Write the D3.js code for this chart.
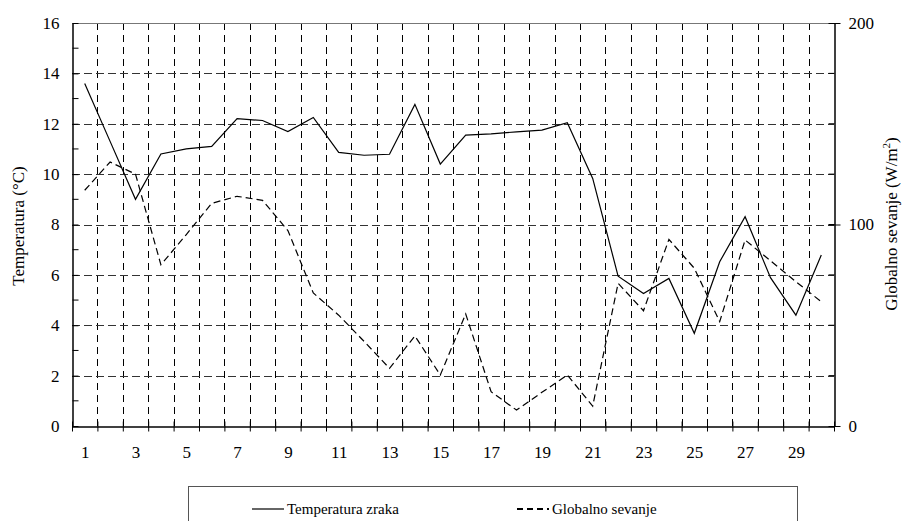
<!DOCTYPE html>
<html>
<head>
<meta charset="utf-8">
<script src="https://cdn.jsdelivr.net/npm/d3@7"></script>
<style>
    body { margin: 0; background: #fff; }
    svg { display: block; }
</style>
</head>
<body>
<div id="chart"></div>
<script>
// days of the month
const days = d3.range(1, 31)

// air temperature, °C (left axis)
const temperature = [13.6, 11.3, 9.0, 10.8, 11.0, 11.1, 12.2, 12.13, 11.69, 12.25,
    10.86, 10.75, 10.79, 12.77, 10.4, 11.55, 11.6, 11.68, 11.75, 12.04,
    9.83, 5.95, 5.26, 5.86, 3.68, 6.52, 8.31, 5.89, 4.4, 6.79]

// global radiation, W/m2 (right axis)
const radiation = [117, 131, 125, 80, 95, 110.5, 114, 112, 97, 66,
    55, 42, 28.6, 44.7, 25.3, 55.6, 17, 7.9, 16.7, 25.3,
    9.9, 70.8, 57.2, 92.6, 78.3, 51.8, 92.3, 82, 71.6, 61.7]

const leftTicks = d3.range(0, 17, 2)
const leftMinor = d3.range(1, 16, 2)
const rightTicks = [0, 100, 200]
const rightMinor = d3.range(25, 200, 25)
const dayLabels = days.filter(d => d % 2 == 1)

const legendItems = [
    { label: "Temperatura zraka", dash: null },
    { label: "Globalno sevanje", dash: "6,4" }
]

const width = 903, height = 521
const plotLeft = 72, plotRight = 834, plotTop = 23, plotBottom = 426

const svg = d3.select("#chart").append("svg")
    .attr("width", width)
    .attr("height", height)

const x = d3.scaleLinear().domain([0.5, 30.5]).range([plotLeft, plotRight])
const y = d3.scaleLinear().domain([0, 16]).range([plotBottom, plotTop])
const y2 = d3.scaleLinear().domain([0, 200]).range([plotBottom, plotTop])

const edges = d3.range(0.5, 31, 1)

// grid
const grid = svg.append("g").attr("stroke", "#000").attr("stroke-width", 1)
grid.selectAll(".vgrid")
    .data(edges.slice(1, -1))
    .enter().append("line")
    .attr("x1", d => Math.round(x(d)) + 0.5).attr("x2", d => Math.round(x(d)) + 0.5)
    .attr("y1", plotTop).attr("y2", plotBottom)
    .attr("stroke-dasharray", "7,5")
grid.selectAll(".hgrid")
    .data(leftTicks.slice(1, -1))
    .enter().append("line")
    .attr("x1", plotLeft).attr("x2", plotRight)
    .attr("y1", d => Math.round(y(d)) + 0.5).attr("y2", d => Math.round(y(d)) + 0.5)
    .attr("stroke", "#333")
    .attr("stroke-dasharray", "8,4")

// top border
svg.append("line")
    .attr("x1", plotLeft).attr("x2", plotRight)
    .attr("y1", plotTop + 0.5).attr("y2", plotTop + 0.5)
    .attr("stroke", "#777")

// left axis
const yAxis = svg.append("g")
    .attr("transform", `translate(${plotLeft + 0.5},0)`)
    .call(d3.axisLeft(y).tickValues(leftTicks).tickSizeInner(5).tickSizeOuter(0).tickPadding(8))
yAxis.selectAll(".tick line").attr("x2", 6)
yAxis.select(".domain").attr("stroke-width", 1.5)
yAxis.append("g").selectAll("line")
    .data(leftMinor).enter().append("line")
    .attr("x1", 0).attr("x2", 6)
    .attr("y1", d => y(d)).attr("y2", d => y(d))
    .attr("stroke", "#000")

// right axis
const y2Axis = svg.append("g")
    .attr("transform", `translate(${plotRight + 0.5},0)`)
    .call(d3.axisRight(y2).tickValues(rightTicks).tickSizeInner(6).tickSizeOuter(0).tickPadding(8))
y2Axis.selectAll(".tick line").attr("x1", -6)
y2Axis.select(".domain").attr("stroke-width", 1.5)
y2Axis.append("g").selectAll("line")
    .data(rightMinor).enter().append("line")
    .attr("x1", -6).attr("x2", 0)
    .attr("y1", d => y2(d)).attr("y2", d => y2(d))
    .attr("stroke", "#000")

// bottom axis: ticks on day edges, labels on odd days
const xAxis = svg.append("g")
    .attr("transform", `translate(0,${plotBottom + 0.5})`)
    .call(d3.axisBottom(x).tickValues(edges).tickSizeInner(5).tickSizeOuter(0).tickFormat(""))
xAxis.selectAll(".tick line").attr("y1", -5)
xAxis.select(".domain").attr("stroke-width", 1.5)

svg.append("g")
    .attr("transform", `translate(0,${plotBottom + 20})`)
    .call(d3.axisBottom(x).tickValues(dayLabels).tickSize(0).tickPadding(0).tickFormat(d3.format("d")))
    .call(g => g.select(".domain").remove())

svg.selectAll(".tick text").attr("font-size", 17).attr("fill", "#000")

// axis titles
svg.append("text")
    .attr("transform", `translate(24,226) rotate(-90)`)
    .attr("text-anchor", "middle")
    .attr("font-size", 17)
    .text("Temperatura (°C)")

const rt = svg.append("text")
    .attr("transform", `translate(897,224) rotate(-90)`)
    .attr("text-anchor", "middle")
    .attr("font-size", 17)
rt.append("tspan").text("Globalno sevanje (W/m")
rt.append("tspan").attr("font-size", 11).attr("dy", -7).text("2")
rt.append("tspan").attr("dy", 7).text(")")

// lines
const tempLine = d3.line().x((d, i) => x(days[i])).y(d => y(d))
const radLine = d3.line().x((d, i) => x(days[i])).y(d => y2(d))

svg.append("path")
    .datum(radiation)
    .attr("d", radLine)
    .attr("fill", "none")
    .attr("stroke", "#000")
    .attr("stroke-width", 1.2)
    .attr("stroke-dasharray", "7,4")

svg.append("path")
    .datum(temperature)
    .attr("d", tempLine)
    .attr("fill", "none")
    .attr("stroke", "#000")
    .attr("stroke-width", 1.2)

// legend
const legend = svg.append("g")
legend.append("rect")
    .attr("x", 188.5).attr("y", 486.5)
    .attr("width", 609).attr("height", 50)
    .attr("fill", "#fff")
    .attr("stroke", "#555")

const lx = [252, 517]
legendItems.forEach((item, i) => {
    const g = legend.append("g").attr("transform", `translate(${lx[i]},509)`)
    g.append("line")
        .attr("x1", 0).attr("x2", 32)
        .attr("stroke", "#000")
        .attr("stroke-width", item.dash ? 1.8 : 1.2)
        .attr("stroke-dasharray", item.dash)
    g.append("text")
        .attr("x", 35).attr("y", 5)
        .attr("font-size", 15)
        .text(item.label)
})

// serif everywhere
svg.selectAll("text").style("font-family", '"Liberation Serif"')
</script>
</body>
</html>
